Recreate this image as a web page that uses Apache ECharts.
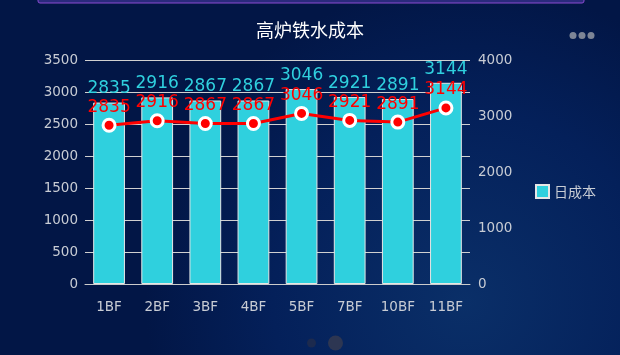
<!DOCTYPE html>
<html><head><meta charset="utf-8">
<script src="https://cdn.jsdelivr.net/npm/echarts@6/dist/echarts.min.js"></script>
<style>html,body{margin:0;padding:0;background:#021848;}#c{width:620px;height:355px;}</style>
</head><body><div id="c"></div>
<script>
var categories = ['1BF','2BF','3BF','4BF','5BF','7BF','10BF','11BF'];
var barValues = [2835,2916,2867,2867,3046,2921,2891,3144];
var lineValues = [2835,2916,2867,2867,3046,2921,2891,3144];
var leftTicks = {min:0,max:3500,interval:500};
var rightTicks = {min:0,max:4000,interval:1000};

var numFont = 'DejaVu Sans';
var plain = function(v){ return String(v); };
var chart = echarts.init(document.getElementById('c'));
chart.setOption({
  backgroundColor: {type:'radial',x:0.75,y:0.85,r:0.9,colorStops:[{offset:0,color:'#0a2f68'},{offset:0.6,color:'#04205a'},{offset:1,color:'#021646'}]},
  title:{text:'高炉铁水成本',left:'center',top:16,textStyle:{color:'#ffffff',fontSize:18,fontWeight:'normal',fontFamily:'Noto Sans CJK SC'}},
  legend:{data:[{name:'日成本',icon:'rect'}],orient:'vertical',left:530,top:179,itemWidth:13,itemHeight:13,itemGap:10,
    textStyle:{color:'#c8ccd4',fontSize:14,fontFamily:'Noto Sans CJK SC'}},
  grid:{left:85,right:150,top:60,bottom:71,containLabel:false},
  graphic:[
    {type:'rect',shape:{x:38,y:-4,width:546,height:7,r:2},style:{fill:'#2a2a7c',stroke:'#8a4ad0',lineWidth:1}},
    {type:'circle',shape:{cx:573,cy:35.5,r:3.5},style:{fill:'#7d8596'}},
    {type:'circle',shape:{cx:582,cy:35.5,r:3.5},style:{fill:'#7d8596'}},
    {type:'circle',shape:{cx:591,cy:35.5,r:3.5},style:{fill:'#7d8596'}},
    {type:'circle',shape:{cx:311.5,cy:343,r:4.5},style:{fill:'#1c2a4e'}},
    {type:'circle',shape:{cx:335.5,cy:343,r:7.5},style:{fill:'#2d3652'}}
  ],
  xAxis:{type:'category',data:categories,
    axisLine:{lineStyle:{color:'#cccccc'}},
    axisTick:{lineStyle:{color:'#cccccc'}},
    axisLabel:{color:'#c8ccd4',fontSize:13.5,fontFamily:numFont,margin:16}},
  yAxis:[
    {type:'value',min:leftTicks.min,max:leftTicks.max,interval:leftTicks.interval,
     axisLine:{show:false},axisTick:{show:false},
     axisLabel:{color:'#c8ccd4',fontSize:13.5,fontFamily:numFont,margin:7,formatter:plain},
     splitLine:{lineStyle:{color:'#d0d0d0',width:1}}},
    {type:'value',min:rightTicks.min,max:rightTicks.max,interval:rightTicks.interval,
     axisLine:{show:false},axisTick:{show:false},
     axisLabel:{color:'#c8ccd4',fontSize:13.5,fontFamily:numFont,margin:8,formatter:plain},
     splitLine:{show:false}}
  ],
  series:[
    {name:'日成本',type:'bar',data:barValues,yAxisIndex:0,barWidth:'66%',
     itemStyle:{color:'#2fd0de',borderColor:'#e6e6e6',borderWidth:1},
     label:{show:true,position:'top',color:'#2fd0de',fontSize:17,fontFamily:numFont,distance:5,formatter:function(p){return String(p.value);}}},
    {name:'线',type:'line',data:lineValues,yAxisIndex:1,symbol:'circle',symbolSize:12,
     lineStyle:{color:'#ff0000',width:3},
     itemStyle:{color:'#ff0000',borderColor:'#ffffff',borderWidth:3},
     label:{show:true,position:'top',color:'#ff0000',fontSize:17,fontFamily:numFont,distance:2,formatter:function(p){return String(p.value);}}}
  ]
});
</script></body></html>
